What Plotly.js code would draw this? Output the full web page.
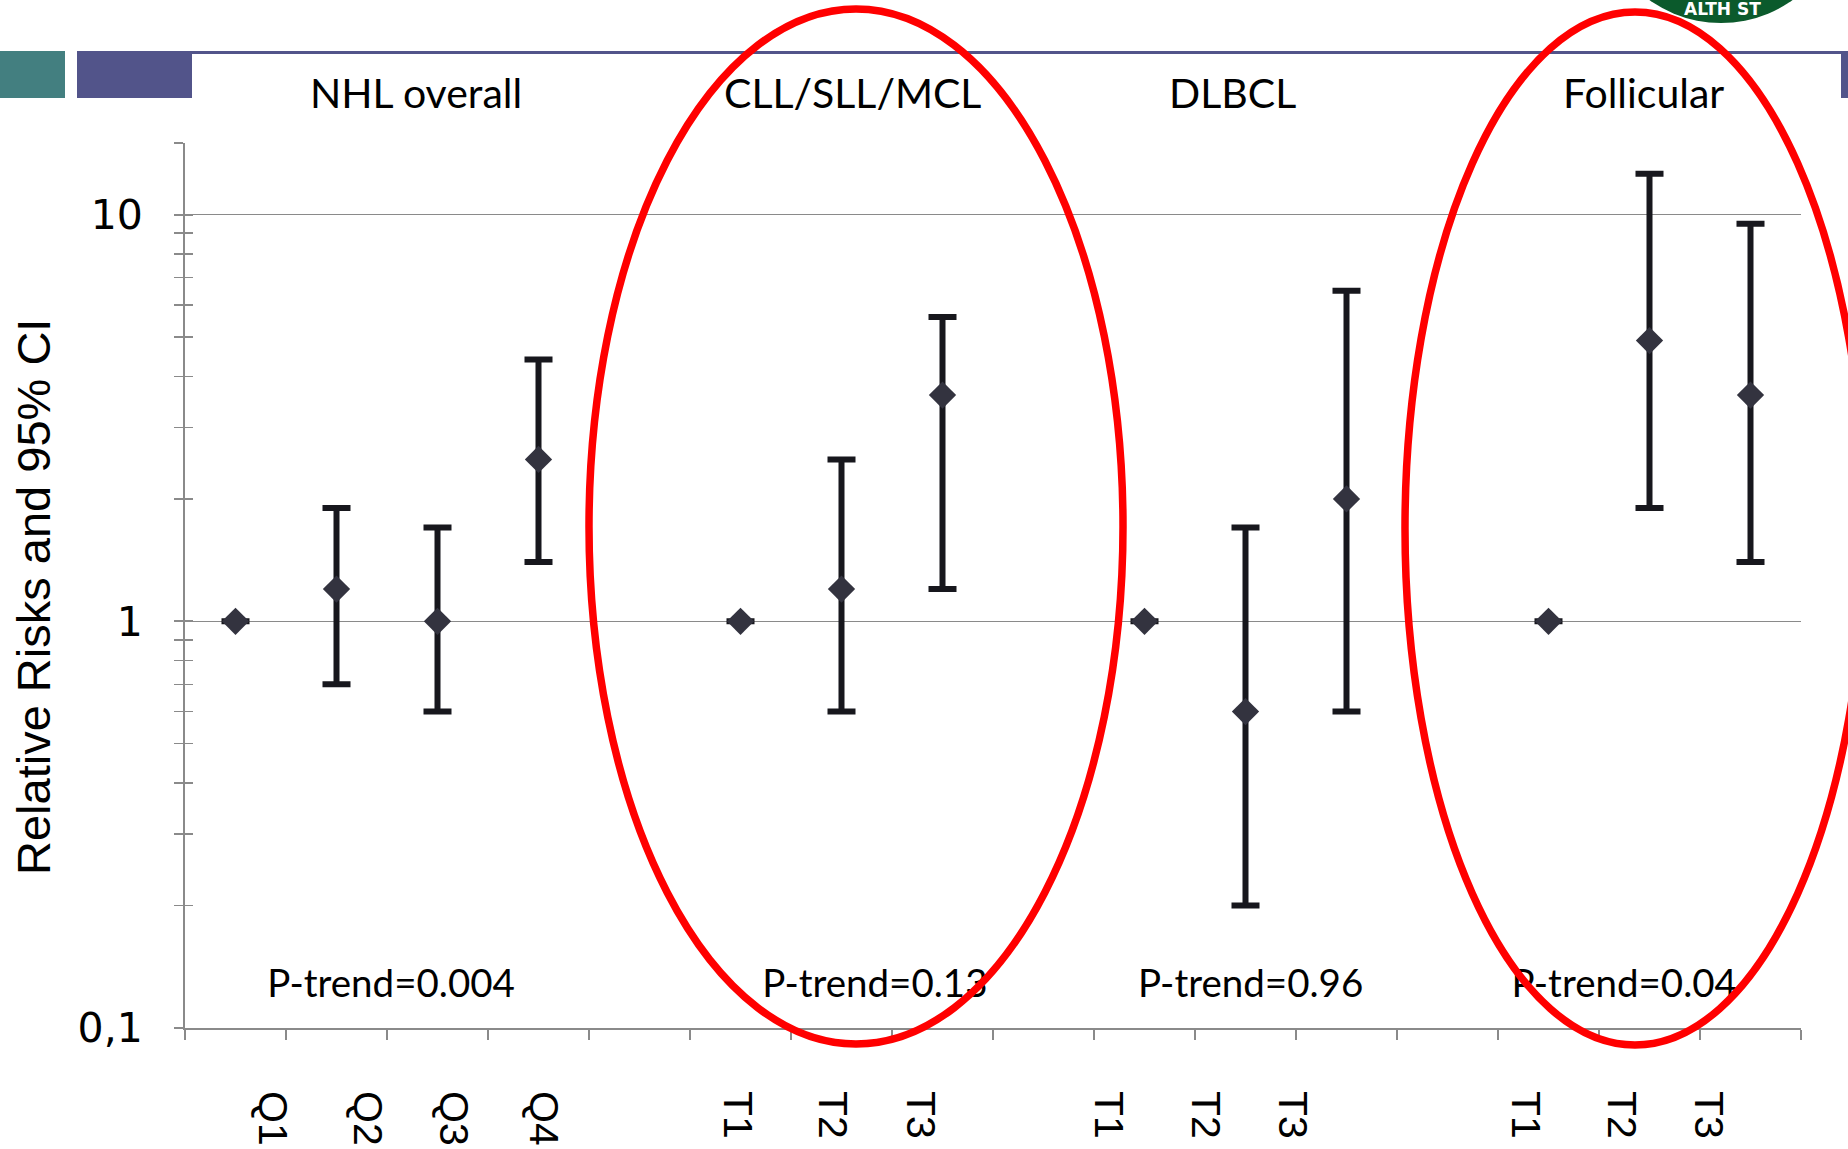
<!DOCTYPE html>
<html>
<head>
<meta charset="utf-8">
<script src="https://cdn.plot.ly/plotly-3.0.1.min.js"></script>
<style>html,body{margin:0;padding:0;background:#fff;}#chart{width:1848px;height:1149px;}</style>
</head>
<body>
<div id="chart"></div>
<script>
// ---- data ----
const groups = ['NHL overall', 'CLL/SLL/MCL', 'DLBCL', 'Follicular'];
const groupSizes = [4, 3, 3, 3];
const categories = ['Q1','Q2','Q3','Q4', 'T1','T2','T3', 'T1','T2','T3', 'T1','T2','T3'];
const relRisk = [1, 1.2, 1.0, 2.5,  1, 1.2, 3.6,  1, 0.6, 2.0,  1, 4.9, 3.6];
const ciLower = [1, 0.7, 0.6, 1.4,  1, 0.6, 1.2,  1, 0.2, 0.6,  1, 1.9, 1.4];
const ciUpper = [1, 1.9, 1.7, 4.4,  1, 2.5, 5.6,  1, 1.7, 6.5,  1, 12.6, 9.5];
const pTrend = ['0.004', '0.13', '0.96', '0.04'];
const yTickVals = [0.1, 1, 10];
const yTickText = ['0,1', '1', '10'];

// ---- layout geometry ----
const W = 1848, H = 1149;
const M = {l: 185, r: 47, t: 143, b: 121};
const PW = W - M.l - M.r, PH = H - M.t - M.b;
const px = X => (X - M.l) / PW;
const py = Y => (H - M.b - Y) / PH;

// slot positions: each group followed by an empty slot
const xPos = [];
let slot = 1;
groupSizes.forEach(n => { for (let i = 0; i < n; i++) xPos.push(slot++); slot++; });
const nSlots = slot - 2;
const boundaries = [];
for (let i = 0; i <= nSlots; i++) boundaries.push(i + 0.5);

// label / text placement (layout, as in the slide)
const labelPos = [1.36, 2.31, 3.16, 4.05, 5.97, 6.91, 7.78, 9.64, 10.6, 11.46, 13.77, 14.72, 15.58];
const pTrendX = [2.54, 7.33, 11.05, 14.75];
const pTrendY = 0.126;
const titleX = [416, 852, 1232, 1643];

const minorVals = [0.2,0.3,0.4,0.5,0.6,0.7,0.8,0.9,2,3,4,5,6,7,8,9,15];
const gray = '#8a8a8a';

const traces = [
  {
    type: 'scatter', mode: 'markers', x: xPos, y: relRisk,
    marker: {symbol: 'diamond', size: 21, color: '#33333f'},
    error_y: {
      type: 'data', symmetric: false,
      array: relRisk.map((v, i) => ciUpper[i] - v),
      arrayminus: relRisk.map((v, i) => v - ciLower[i]),
      color: '#17171d', thickness: 6, width: 14
    },
    showlegend: false, hoverinfo: 'skip'
  },
  {
    type: 'scatter', mode: 'text',
    x: pTrendX, y: pTrend.map(() => pTrendY),
    text: pTrend.map(p => 'P-trend=' + p),
    textfont: {family: 'Lato, Open Sans, sans-serif', size: 38.5, color: '#000'},
    textposition: 'middle center', cliponaxis: false,
    showlegend: false, hoverinfo: 'skip'
  },
  {type: 'scatter', x: [null], y: [null], xaxis: 'x2', yaxis: 'y', showlegend: false, hoverinfo: 'skip'},
  {type: 'scatter', x: [null], y: [null], xaxis: 'x', yaxis: 'y2', showlegend: false, hoverinfo: 'skip'}
];

const yBase = {
  type: 'log', range: [-1, Math.log10(15)], fixedrange: true
};

const layout = {
  width: W, height: H,
  margin: M,
  paper_bgcolor: '#fff', plot_bgcolor: '#fff',
  showlegend: false,
  xaxis: {
    range: [0.5, nSlots + 0.5], tickmode: 'array', tickvals: boundaries,
    showticklabels: false, ticks: 'outside', ticklen: 10, tickwidth: 2, tickcolor: gray,
    showline: true, linecolor: gray, linewidth: 2, showgrid: false, zeroline: false
  },
  xaxis2: {
    overlaying: 'x', anchor: 'y', side: 'bottom',
    range: [0.5, nSlots + 0.5], tickmode: 'array', tickvals: labelPos, ticktext: categories,
    tickangle: 90, ticks: '', showline: false, showgrid: false, zeroline: false,
    tickfont: {family: 'Liberation Sans, Arial, sans-serif', size: 41, color: '#000'},
    ticklabelstandoff: 62
  },
  yaxis: Object.assign({}, yBase, {
    tickmode: 'array', tickvals: yTickVals, ticktext: yTickText,
    ticks: 'outside', ticklen: 9, tickwidth: 2, tickcolor: gray,
    showline: true, linecolor: gray, linewidth: 2,
    showgrid: true, gridcolor: gray, gridwidth: 1.5,
    tickfont: {family: 'DejaVu Sans, sans-serif', size: 41, color: '#000'},
    ticklabelstandoff: 23,
    minor: {tickmode: 'array', tickvals: minorVals, ticks: 'outside', ticklen: 9, tickwidth: 1.5, tickcolor: gray, showgrid: false}
  }),
  yaxis2: Object.assign({}, yBase, {
    overlaying: 'y', anchor: 'x', side: 'left',
    tickmode: 'array', tickvals: yTickVals, showticklabels: false,
    ticks: 'inside', ticklen: 8, tickwidth: 2, tickcolor: gray,
    showline: false, showgrid: false, zeroline: false,
    minor: {tickmode: 'array', tickvals: minorVals, ticks: 'inside', ticklen: 8, tickwidth: 1.5, tickcolor: gray, showgrid: false}
  }),
  annotations: groups.map((g, i) => ({
    text: g, xref: 'paper', yref: 'paper', x: px(titleX[i]), y: py(92),
    xanchor: 'center', yanchor: 'middle', showarrow: false,
    font: {family: 'Lato, Open Sans, sans-serif', size: 41, color: '#000'}
  })).concat([
    {
      text: 'Relative Risks and 95% CI', xref: 'paper', yref: 'paper',
      x: px(33), y: py(597), textangle: -90, xanchor: 'center', yanchor: 'middle', showarrow: false,
      font: {family: 'Liberation Sans, Arial, sans-serif', size: 47, color: '#000'}
    },
    {
      text: '<b>ALTH ST</b>', xref: 'paper', yref: 'paper',
      x: px(1722), y: py(9), xanchor: 'center', yanchor: 'middle', showarrow: false,
      font: {family: 'DejaVu Sans, sans-serif', size: 17, color: '#ffffff'}
    }
  ]),
  shapes: [
    {type: 'rect', xref: 'paper', yref: 'paper', x0: px(0), x1: px(65), y0: py(98), y1: py(51), fillcolor: '#437f80', line: {width: 0}, layer: 'below'},
    {type: 'rect', xref: 'paper', yref: 'paper', x0: px(77), x1: px(192), y0: py(98), y1: py(51), fillcolor: '#52548a', line: {width: 0}, layer: 'below'},
    {type: 'rect', xref: 'paper', yref: 'paper', x0: px(192), x1: px(1848), y0: py(54), y1: py(51), fillcolor: '#52548a', line: {width: 0}, layer: 'below'},
    {type: 'rect', xref: 'paper', yref: 'paper', x0: px(1841), x1: px(1848), y0: py(98), y1: py(51), fillcolor: '#52548a', line: {width: 0}, layer: 'below'},
    {type: 'circle', xref: 'paper', yref: 'paper', x0: px(1598), x1: px(1844), y0: py(23), y1: py(-223), fillcolor: '#0b5a2c', line: {width: 0}, layer: 'below'},
    {type: 'circle', xref: 'paper', yref: 'paper', x0: px(589), x1: px(1123), y0: py(1044), y1: py(9), line: {color: '#ff0000', width: 7.5}, layer: 'above'},
    {type: 'circle', xref: 'paper', yref: 'paper', x0: px(1405), x1: px(1865), y0: py(1045), y1: py(12), line: {color: '#ff0000', width: 7.5}, layer: 'above'}
  ]
};

Plotly.newPlot('chart', traces, layout, {staticPlot: true, displayModeBar: false});
</script>
</body>
</html>
